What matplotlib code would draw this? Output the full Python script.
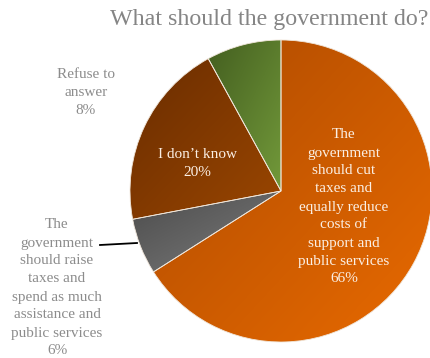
import matplotlib.pyplot as plt
import numpy as np
from matplotlib.colors import LinearSegmentedColormap

# survey answers, clockwise from 12 o'clock
labels = ['The\ngovernment\nshould cut\ntaxes and\nequally reduce\ncosts of\nsupport and\npublic services',
          'The\ngovernment\nshould raise\ntaxes and\nspend as much\nassistance and\npublic services',
          'I don\u2019t know',
          'Refuse to\nanswer']
values = [66, 6, 20, 8]
# (dark top-left, light bottom-right) for each slice
shades = [('#ad4a00', '#e86a00'),
          ('#4c4c4c', '#7c7c7c'),
          ('#6a2d00', '#9a4600'),
          ('#445f20', '#72993a')]

plt.rcParams['font.family'] = ['Liberation Serif', 'DejaVu Serif']

fig = plt.figure(figsize=(4.3, 3.58), dpi=100)
ax = fig.add_axes([0, 0, 1, 1])

# y axis runs downward, so data angles go the other way round visually
cx, cy, r = 281, 191, 151
wedges, _ = ax.pie(values, center=(cx, cy), radius=r, startangle=-90,
                   counterclock=True, frame=True,
                   wedgeprops=dict(linewidth=0.6, edgecolor='#f0e6da'))

# fill each slice with a diagonal gradient over its own bounding box
for w, (c0, c1) in zip(wedges, shades):
    w.set_facecolor('none')
    bb = w.get_path().transformed(w.get_patch_transform()).get_extents()
    cmap = LinearSegmentedColormap.from_list('g', [c0, c1])
    gx, gy = np.meshgrid(np.linspace(0, 1, 64), np.linspace(0, 1, 64))
    img = ax.imshow((gx + gy) / 2, cmap=cmap, vmin=0, vmax=1,
                    extent=[bb.x0, bb.x1, bb.y0, bb.y1], origin='lower',
                    interpolation='bilinear', zorder=1)
    img.set_clip_path(w)
    w.set_zorder(2)

ax.set_xlim(0, 430)
ax.set_ylim(358, 0)
ax.set_aspect('equal')
ax.axis('off')

txt = dict(fontsize=11, ha='center', va='center', linespacing=1.5)
ax.text(344, 207, f'{labels[0]}\n{values[0]}%', color='#fbefe4', **txt)
ax.text(197, 163, f'{labels[2]}\n{values[2]}%', color='#fbefe4', **txt)
ax.text(86, 93, f'{labels[3]}\n{values[3]}%', color='#8c8c8c', **txt)
ax.text(57, 288, f'{labels[1]}\n{values[1]}%', color='#8c8c8c', **txt)
ax.plot([100, 137], [245, 243], color='black', lw=1.3, zorder=3)

ax.text(269, 20, 'What should the government do?', fontsize=17.3,
        color='#858585', ha='center', va='center')

fig.savefig('out.png', dpi=100)
